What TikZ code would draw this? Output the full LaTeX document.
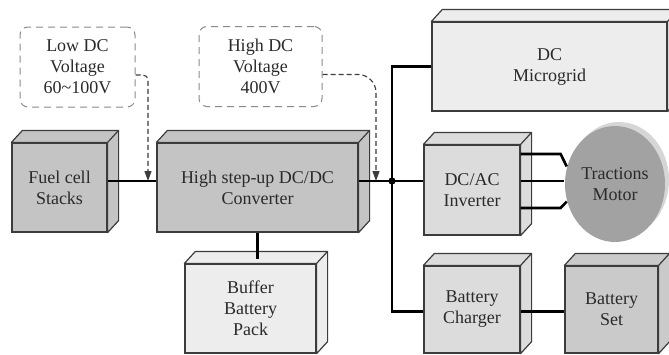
\documentclass[tikz,border=0pt]{standalone}
\usepackage{fontspec}
\setmainfont{Liberation Serif}
\usetikzlibrary{arrows.meta,shapes.geometric}

\definecolor{edgegray}{HTML}{3C3C3C}
\definecolor{darkfill}{HTML}{C4C4C4}
\definecolor{midfill}{HTML}{DCDCDC}
\definecolor{palefill}{HTML}{EDEDED}
\definecolor{setfill}{HTML}{CACACA}
\definecolor{motorfill}{HTML}{A2A2A2}
\definecolor{motorside}{HTML}{D6D6D6}
\definecolor{dashgray}{HTML}{8A8A8A}
\definecolor{txtgray}{HTML}{2A2A2A}

\begin{document}
\begin{tikzpicture}[
    x=1pt, y=-1pt,
    line width=1.2pt,
    font=\fontsize{18}{21}\selectfont,
    box/.style={rectangle, draw=edgegray, text=txtgray, align=center, inner sep=0pt},
    note/.style={rectangle, draw=dashgray, line width=1pt, dash pattern=on 7pt off 5pt, rounded corners=8pt,
                 text=txtgray, align=center, inner sep=0pt, minimum height=80pt},
    wire/.style={line width=2.6pt, black},
    sig/.style={line width=1.1pt, edgegray, dash pattern=on 5pt off 3pt, -{Triangle[length=10pt,width=7pt]}}
]
  \useasboundingbox (0,0) rectangle (669,354);

  % voltage notes
  \node[note, minimum width=115pt] (low)  at (77.5,67)   {Low DC\\Voltage\\60\textasciitilde100V};
  \node[note, minimum width=123pt] (high) at (260.5,66.5) {High DC\\Voltage\\400V};

  % motor
  \fill[motorside] (619,180) ellipse [x radius=50, y radius=58];
  \node[ellipse, fill=motorfill, minimum width=100pt, minimum height=116pt, text=txtgray,
        align=center, inner sep=0pt] (motor) at (615,184) {Tractions\\Motor};

  % blocks
  \node[box, fill=darkfill, minimum width=95pt,  minimum height=89pt] (fuel)    at (59.5,187.5)  {Fuel cell\\Stacks};
  \node[box, fill=darkfill, minimum width=201pt, minimum height=89pt] (conv)    at (257.5,187.5) {High step-up DC/DC\\Converter};
  \node[box, fill=palefill, minimum width=131pt, minimum height=89pt] (buffer)  at (250.5,308.5) {Buffer\\Battery\\Pack};
  \node[box, fill=palefill, minimum width=235pt, minimum height=89pt] (micro)   at (549.5,66.5)  {DC\\Microgrid};
  \node[box, fill=midfill,  minimum width=96pt,  minimum height=90pt] (inv)     at (472,190)     {DC/AC\\Inverter};
  \node[box, fill=midfill,  minimum width=96pt,  minimum height=87pt] (charger) at (472,309.5)   {Battery\\Charger};
  \node[box, fill=setfill,  minimum width=93pt,  minimum height=87pt] (bset)    at (611.5,309.5) {Battery\\Set};

  % box depth
  \foreach \n/\c in {fuel/darkfill, conv/darkfill, buffer/palefill, micro/palefill,
                     inv/midfill, charger/midfill, bset/setfill}
    \draw[draw=edgegray, fill=\c, line join=round]
      (\n.north west) -- ([shift={(11pt,12pt)}]\n.north west) -- ([shift={(11pt,12pt)}]\n.north east)
      -- ([shift={(11pt,12pt)}]\n.south east) -- (\n.south east) -- (\n.north east) -- cycle
      (\n.north east) -- ([shift={(11pt,12pt)}]\n.north east);

  % junctions
  \coordinate (j)       at (392,181);
  \coordinate (lowtap)  at (148,181);
  \coordinate (hightap) at (376,181);

  % wires
  \draw[wire] (fuel.east |- j) -- (conv.west |- j);
  \draw[wire] (conv.east |- j) -- (j) -- (inv.west |- j);
  \draw[wire] (micro.west) -| (j) |- ([yshift=-2pt]charger.west);
  \draw[wire] ([yshift=-2pt]charger.east) -- ([yshift=-2pt]bset.west);
  \draw[wire] (conv.south) -- ++(0,26);
  \fill (j) circle (3.6pt);

  % motor phases
  \draw[wire] (inv.east |- j) ++(0,-27) -- ++(40,0) -- (motor.160);
  \draw[wire] (inv.east |- j) -- (motor.west |- j);
  \draw[wire] (inv.east |- j) ++(0,27) -- ++(40,0) -- (motor.200);

  % voltage arrows
  \draw[sig, rounded corners=5pt]  ([yshift=-8pt]low.east)  -| (lowtap);
  \draw[sig, rounded corners=18pt] ([yshift=-8pt]high.east) -| (hightap);
\end{tikzpicture}
\end{document}
